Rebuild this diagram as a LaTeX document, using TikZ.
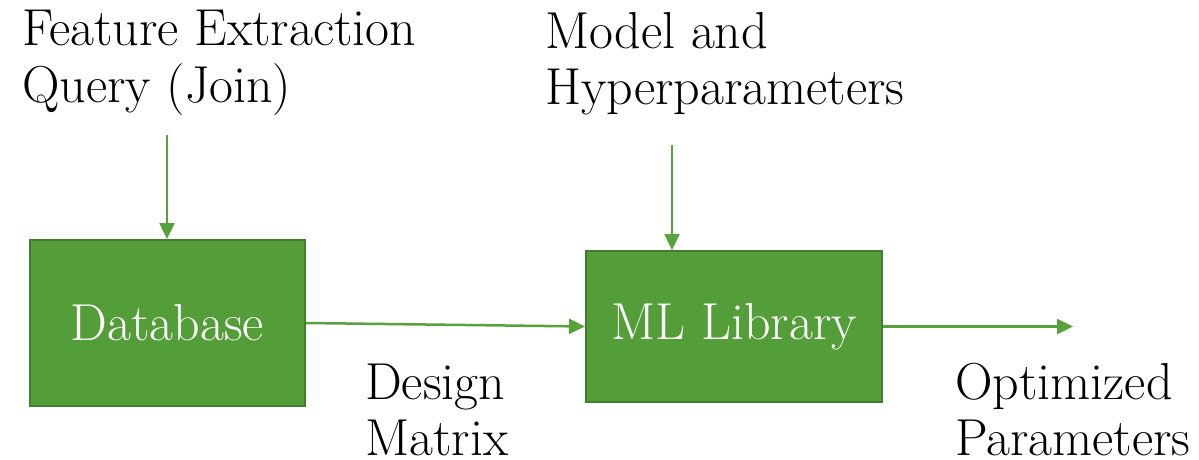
\documentclass[tikz,border=0pt]{standalone}
\usepackage{fontspec}
\usetikzlibrary{arrows.meta}
\definecolor{gfill}{RGB}{84,158,57}
\definecolor{gline}{RGB}{66,126,46}
\definecolor{garrow}{RGB}{88,162,60}
\begin{document}
\begin{tikzpicture}[x=1pt,y=-1pt,
  box/.style={draw=gline, line width=2pt, fill=gfill, text=white, inner sep=0pt,
    font=\fontsize{52}{56}\selectfont},
  lbl/.style={anchor=base west, align=left, inner sep=0pt, text=black,
    font=\fontsize{52}{56}\selectfont},
  conn/.style={draw=garrow, line width=2.5pt, -{Triangle[length=16pt,width=15pt]}}]
\useasboundingbox (0,0) rectangle (1199,460);
\node[box, minimum width=275pt, minimum height=166pt] (db) at (167.5,323) {Database};
\node[box, minimum width=296pt, minimum height=151pt] (ml) at (734,326.5) {ML Library};
\node[lbl] (q) at (22,102) {Feature Extraction\\Query (Join)};
\node[lbl] (m) at (545,104) {Model and\\Hyperparameters};
\node[lbl] (dm) at (365,455) {Design\\Matrix};
\node[lbl] (op) at (955,455) {Optimized\\Parameters};
\coordinate (t1) at (167,135);
\coordinate (t2) at (672,145);
\coordinate (out) at (1073,326.5);
\draw[conn] (t1) -- (t1 |- db.north);
\draw[conn] (t2) -- (t2 |- ml.north);
\draw[conn] (db.east) -- (ml.west);
\draw[conn] (ml.east) -- (out);
\end{tikzpicture}
\end{document}
